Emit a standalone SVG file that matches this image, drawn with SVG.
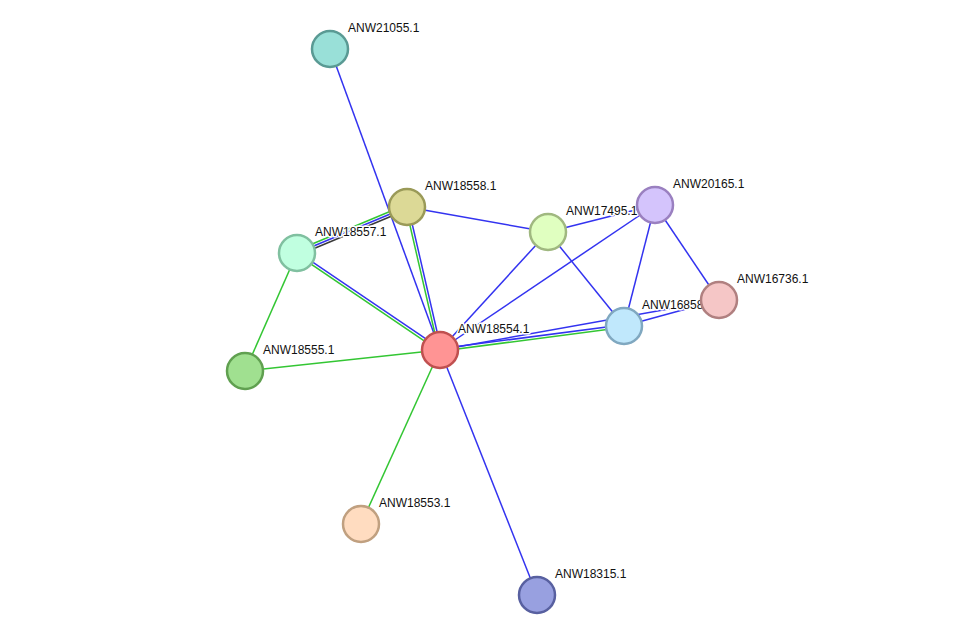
<svg xmlns="http://www.w3.org/2000/svg" width="975" height="641" viewBox="0 0 975 641">
<style>
.e{stroke-width:1.5;fill:none}
.b{stroke:#3333f0}
.g{stroke:#33c633}
.k{stroke:#3a3a3a}
circle{stroke-width:2.5}
text{font-family:"Liberation Sans",Arial,sans-serif;font-size:12px;fill:#111;stroke:#fff;stroke-width:3;paint-order:stroke;stroke-linejoin:round}
</style>
<rect width="975" height="641" fill="#fff"/>
<g id="edges">
<line class="e b" x1="330" y1="49" x2="440" y2="350"/>
<line class="e g" x1="296.03" y1="250.69" x2="406.03" y2="204.69"/>
<line class="e b" x1="297" y1="253" x2="407" y2="207"/>
<line class="e k" x1="297.97" y1="255.31" x2="407.97" y2="209.31"/>
<line class="e g" x1="405.78" y1="207.28" x2="438.78" y2="350.28"/>
<line class="e b" x1="408.22" y1="206.72" x2="441.22" y2="349.72"/>
<line class="e b" x1="297.7" y1="251.96" x2="440.7" y2="348.96"/>
<line class="e g" x1="296.3" y1="254.04" x2="439.3" y2="351.04"/>
<line class="e b" x1="439.84" y1="348.76" x2="623.84" y2="324.76"/>
<line class="e g" x1="440.16" y1="351.24" x2="624.16" y2="327.24"/>
<line class="e b" x1="719" y1="300" x2="440" y2="350"/>
<line class="e b" x1="719" y1="300" x2="624" y2="326"/>
<line class="e g" x1="297" y1="253" x2="245" y2="371"/>
<line class="e g" x1="245" y1="371" x2="440" y2="350"/>
<line class="e g" x1="361" y1="524" x2="440" y2="350"/>
<line class="e b" x1="537" y1="595" x2="440" y2="350"/>
<line class="e b" x1="407" y1="207" x2="548" y2="232"/>
<line class="e b" x1="548" y1="232" x2="440" y2="350"/>
<line class="e b" x1="655" y1="205" x2="440" y2="350"/>
<line class="e b" x1="548" y1="232" x2="655" y2="205"/>
<line class="e b" x1="548" y1="232" x2="624" y2="326"/>
<line class="e b" x1="655" y1="205" x2="624" y2="326"/>
<line class="e b" x1="655" y1="205" x2="719" y2="300"/>
</g>
<g id="ANW21055.1"><circle cx="330" cy="49" r="18" fill="#99e0d8" stroke="#5a9a94"/><text x="348" y="32">ANW21055.1</text></g>
<g id="ANW18558.1"><circle cx="407" cy="207" r="18" fill="#dcd996" stroke="#9a9a58"/><text x="425" y="190">ANW18558.1</text></g>
<g id="ANW18557.1"><circle cx="297" cy="253" r="18" fill="#c0ffe0" stroke="#80c0a0"/><text x="315" y="236">ANW18557.1</text></g>
<g id="ANW17495.1"><circle cx="548" cy="232" r="18" fill="#e0ffc0" stroke="#a0b880"/><text x="566" y="215">ANW17495.1</text></g>
<g id="ANW20165.1"><circle cx="655" cy="205" r="18" fill="#d4c4fc" stroke="#9a80c0"/><text x="673" y="188">ANW20165.1</text></g>
<g id="ANW16858.1"><circle cx="624" cy="326" r="18" fill="#c0e8fc" stroke="#80a8c0"/><text x="642" y="309">ANW16858.1</text></g>
<g id="ANW16736.1"><circle cx="719" cy="300" r="18" fill="#f5c6c6" stroke="#b08080"/><text x="737" y="283">ANW16736.1</text></g>
<g id="ANW18554.1"><circle cx="440" cy="350" r="18" fill="#ff9494" stroke="#c05050"/><text x="458" y="333">ANW18554.1</text></g>
<g id="ANW18555.1"><circle cx="245" cy="371" r="18" fill="#a0e090" stroke="#60a050"/><text x="263" y="354">ANW18555.1</text></g>
<g id="ANW18553.1"><circle cx="361" cy="524" r="18" fill="#ffdcc0" stroke="#c0a080"/><text x="379" y="507">ANW18553.1</text></g>
<g id="ANW18315.1"><circle cx="537" cy="595" r="18" fill="#98a0e0" stroke="#5860a0"/><text x="555" y="578">ANW18315.1</text></g>
</svg>
